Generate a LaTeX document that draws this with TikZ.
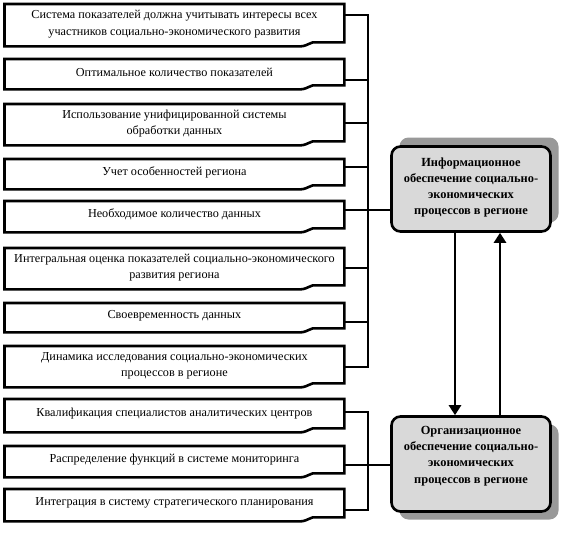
\documentclass[tikz,border=0pt]{standalone}
\usepackage{fontspec}
\setmainfont{Liberation Serif}
\usetikzlibrary{arrows.meta,calc,shadows}

\tikzset{
  lw/.style={line width=2.6pt},
  docarea/.style={draw=none, inner sep=0pt, anchor=north west, minimum width=339.5pt},
  doctext/.style={align=center, inner sep=0pt, font=\fontsize{12.2}{16.5}\selectfont},
  bigbox/.style={draw, lw, fill=black!15, rounded corners=9pt, inner sep=0pt,
     minimum width=159pt},
  boldtext/.style={align=center, inner sep=0pt, font=\bfseries\fontsize{12.4}{16.3}\selectfont},
  arr/.style={lw, -{Triangle[length=10pt,width=12pt]}},
}

\newcommand\docbox[5]{% name, top, bottom, text, text shift
  \node[docarea, minimum height={#3pt-#2pt}] (#1) at (4.5,#2) {};
  \node[doctext] (#1t) at ([yshift=#5pt]#1.center) {#4};
  \draw[lw] (#1.north west) -- (#1.north east) -- ([yshift=4pt]#1.south east)
    -- ([shift={(-28pt,4pt)}]#1.south east)
    .. controls ([shift={(-33pt,5.5pt)}]#1.south east) and ([shift={(-36pt,0.5pt)}]#1.south east)
    .. ([shift={(-44pt,0pt)}]#1.south east) -- (#1.south west) -- cycle;
}

\begin{document}
\begin{tikzpicture}[x=1pt,y=-1pt]
\useasboundingbox (0,0) rectangle (564,551);

\docbox{b1}{4}{46}{Система показателей должна учитывать интересы всех\\участников социально-экономического развития}{1}
\docbox{b2}{59}{89}{Оптимальное количество показателей}{2}
\docbox{b3}{104}{145}{Использование унифицированной системы\\обработки данных}{1}
\docbox{b4}{159}{189}{Учет особенностей региона}{2}
\docbox{b5}{201}{232}{Необходимое количество данных}{2}
\docbox{b6}{248}{289}{Интегральная оценка показателей социально-экономического\\развития региона}{1}
\docbox{b7}{303}{332}{Своевременность данных}{2}
\docbox{b8}{346}{387}{Динамика исследования социально-экономических\\процессов в регионе}{1}
\docbox{b9}{399}{432}{Квалификация специалистов аналитических центров}{2}
\docbox{b10}{446}{477}{Распределение функций в системе мониторинга}{2}
\docbox{b11}{489}{521}{Интеграция в систему стратегического планирования}{2}

% big boxes
\node[bigbox, minimum height=85pt,
  drop shadow={shadow xshift=8pt, shadow yshift=9pt, fill=black!40, opacity=1}] (info) at (471,189) {};
\node[boldtext] (infot) at ([yshift=1.5pt]info.center) {Информационное\\обеспечение социально-\\экономических\\процессов в регионе};

\node[bigbox, minimum height=95pt,
  drop shadow={shadow xshift=8pt, shadow yshift=-8pt, fill=black!40, opacity=1}] (org) at (471,464) {};
\node[boldtext] (orgt) at ([yshift=8pt]org.center) {Организационное\\обеспечение социально-\\экономических\\процессов в регионе};

% bus coordinates
\coordinate (t1) at (368,15);
\coordinate (t2) at (368,80);
\coordinate (t3) at (368,123);
\coordinate (t4) at (368,167);
\coordinate (t5) at (368,210);
\coordinate (t6) at (368,268);
\coordinate (t7) at (368,322);
\coordinate (t8) at (368,367);
\coordinate (u9) at (368,412);
\coordinate (u10) at (368,465);
\coordinate (u11) at (368,510);

\draw[lw] (b1.east |- t1) -- (t1) -- (t8) -- (b8.east |- t8);
\foreach \i in {2,3,4,6,7} { \draw[lw] (b\i.east |- t\i) -- (t\i); }
\draw[lw] (b5.east |- t5) -- (info.west |- t5);

\draw[lw] (b9.east |- u9) -- (u9) -- (u11) -- (b11.east |- u11);
\draw[lw] (b10.east |- u10) -- (org.west |- u10);

% arrows between big boxes
\coordinate (ax1) at (455,0);
\coordinate (ax2) at (500,0);
\draw[arr] (info.south -| ax1) -- (org.north -| ax1);
\draw[arr] (org.north -| ax2) -- (info.south -| ax2);
\end{tikzpicture}
\end{document}
